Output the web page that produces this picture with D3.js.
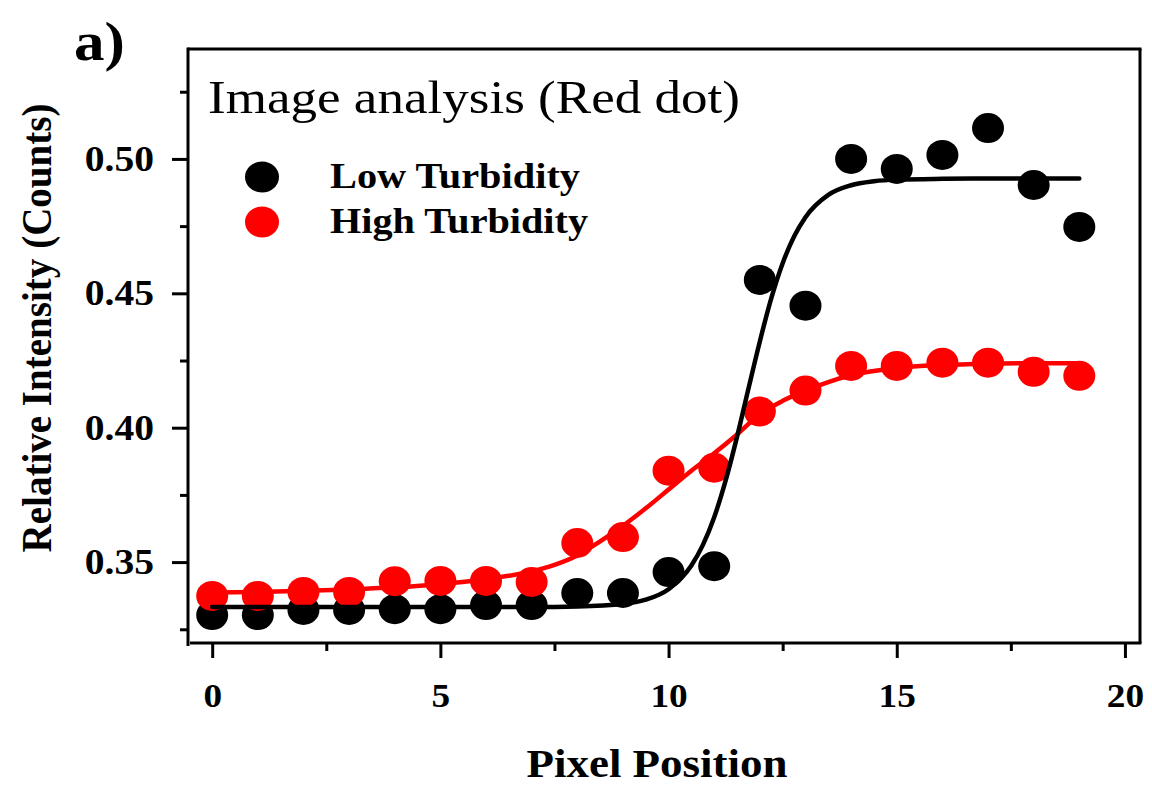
<!DOCTYPE html>
<html>
<head>
<meta charset="utf-8">
<script src="https://cdn.jsdelivr.net/npm/d3@7"></script>
<style>
  html, body { margin: 0; padding: 0; background: #fff; }
  svg { display: block; font-family: "Liberation Serif", "Times New Roman", serif; }
</style>
</head>
<body>
<div id="chart"></div>
<script>
// 数据
const pixelPos = [0, 1, 2, 3, 4, 5, 6, 7, 8, 9, 10, 11, 12, 13, 14, 15, 16, 17, 18, 19];
const lowTurbidity = [0.3303, 0.3303, 0.3322, 0.3322, 0.3325, 0.3325, 0.3340, 0.3340, 0.3385, 0.3385,
                      0.3463, 0.3485, 0.4550, 0.4454, 0.5000, 0.4963, 0.5015, 0.5115, 0.4903, 0.4747];
const highTurbidity = [0.3374, 0.3374, 0.3389, 0.3389, 0.3429, 0.3430, 0.3430, 0.3426, 0.3571, 0.3593,
                       0.3840, 0.3851, 0.4060, 0.4138, 0.4230, 0.4230, 0.4242, 0.4242, 0.4208, 0.4193];

// 拟合曲线
const lowFitX = [0, 2, 4, 6, 7, 8, 9, 9.5, 10, 10.5, 10.75, 11, 11.25, 11.5, 11.75, 12, 12.25, 12.5, 12.75, 13, 13.5, 14, 14.5, 15, 16, 17, 18, 19];
const lowFitY = [0.3333, 0.3333, 0.3333, 0.3333, 0.3333, 0.3335, 0.3344, 0.3360, 0.3399, 0.3487, 0.3563, 0.3667,
                 0.3803, 0.3966, 0.4145, 0.4321, 0.4481, 0.4612, 0.4711, 0.4783, 0.4866, 0.4902, 0.4917, 0.4923,
                 0.4926, 0.4927, 0.4927, 0.4927];
const highFitX = [0, 1, 2, 3, 4, 5, 6, 7, 7.5, 8, 8.5, 9, 9.5, 10, 10.5, 11, 11.5, 12, 12.5, 13, 13.5, 14, 15, 16, 17, 18, 19];
const highFitY = [0.3387, 0.3389, 0.3393, 0.3398, 0.3406, 0.3418, 0.3436, 0.3466, 0.3490, 0.3525, 0.3577, 0.3635,
                  0.3700, 0.3770, 0.3840, 0.3905, 0.3975, 0.4050, 0.4100, 0.4138, 0.4170, 0.4195, 0.4222, 0.4233,
                  0.4238, 0.4240, 0.4240];

const xMajorTicks = [0, 5, 10, 15, 20];
const xMinorTicks = [2.5, 7.5, 12.5, 17.5];
const yMajorTicks = [0.35, 0.40, 0.45, 0.50];
const yMinorTicks = [0.325, 0.375, 0.425, 0.475, 0.525];

const width = 1152, height = 785;
const plot = { left: 188, right: 1140, top: 49, bottom: 643 };
const stretch = 1.13; // 原图文字横向略宽

// 横向拉伸文字
function widen(sel, k = stretch) {
    sel.each(function() {
        const len = this.getComputedTextLength();
        d3.select(this).attr('textLength', len * k).attr('lengthAdjust', 'spacingAndGlyphs');
    });
}

const svg = d3.select('#chart').append('svg')
    .attr('width', width)
    .attr('height', height);

const xScale = d3.scaleLinear().domain([-0.53, 20.33]).range([plot.left, plot.right]);
const yScale = d3.scaleLinear().domain([0.3199, 0.5409]).range([plot.bottom, plot.top]);

// 坐标轴
const yAxis = d3.axisLeft(yScale).tickValues(yMajorTicks).tickSize(16).tickSizeOuter(0)
    .tickFormat(d3.format('.2f')).tickPadding(18);
const gy = svg.append('g').attr('transform', `translate(${plot.left},0)`).call(yAxis);
gy.select('.domain').remove();
gy.selectAll('.tick line').attr('stroke', '#000').attr('stroke-width', 3);
gy.selectAll('.tick text').attr('font-size', 35).attr('font-weight', 'bold').attr('fill', '#000')
    .attr('font-family', '"Liberation Serif", serif').attr('dy', '0.33em').call(widen);

const gyMinor = svg.append('g').attr('transform', `translate(${plot.left},0)`)
    .call(d3.axisLeft(yScale).tickValues(yMinorTicks).tickSize(8).tickFormat(''));
gyMinor.select('.domain').remove();
gyMinor.selectAll('.tick line').attr('stroke', '#000').attr('stroke-width', 3);

const xAxis = d3.axisBottom(xScale).tickValues(xMajorTicks).tickSize(15).tickSizeOuter(0)
    .tickFormat(d3.format('d')).tickPadding(26);
const gx = svg.append('g').attr('transform', `translate(0,${plot.bottom})`).call(xAxis);
gx.select('.domain').remove();
gx.selectAll('.tick line').attr('stroke', '#000').attr('stroke-width', 3);
gx.selectAll('.tick text').attr('font-size', 33).attr('font-weight', 'bold').attr('fill', '#000')
    .attr('font-family', '"Liberation Serif", serif').call(widen);

const gxMinor = svg.append('g').attr('transform', `translate(0,${plot.bottom})`)
    .call(d3.axisBottom(xScale).tickValues(xMinorTicks).tickSize(8).tickFormat(''));
gxMinor.select('.domain').remove();
gxMinor.selectAll('.tick line').attr('stroke', '#000').attr('stroke-width', 3);

// 边框
svg.append('line').attr('x1', plot.left).attr('x2', plot.left).attr('y1', plot.top - 1.5).attr('y2', plot.bottom + 3)
    .attr('stroke', '#000').attr('stroke-width', 3);
svg.append('line').attr('x1', plot.left + 2).attr('x2', plot.right + 1.5).attr('y1', plot.bottom).attr('y2', plot.bottom)
    .attr('stroke', '#000').attr('stroke-width', 3);
svg.append('line').attr('x1', plot.left).attr('x2', plot.right + 1.5).attr('y1', plot.top).attr('y2', plot.top)
    .attr('stroke', '#000').attr('stroke-width', 3);
svg.append('line').attr('x1', plot.right).attr('x2', plot.right).attr('y1', plot.top).attr('y2', plot.bottom)
    .attr('stroke', '#000').attr('stroke-width', 3);

// 数据点
const r = 15.5;
svg.append('g').selectAll('ellipse')
    .data(pixelPos)
    .enter()
    .append('ellipse')
    .attr('cx', d => xScale(d))
    .attr('cy', (d, i) => yScale(lowTurbidity[i]))
    .attr('rx', r + 0.5)
    .attr('ry', r - 0.5)
    .attr('fill', '#000');

svg.append('g').selectAll('ellipse')
    .data(pixelPos)
    .enter()
    .append('ellipse')
    .attr('cx', d => xScale(d))
    .attr('cy', (d, i) => yScale(highTurbidity[i]))
    .attr('rx', r + 0.5)
    .attr('ry', r - 0.5)
    .attr('fill', '#ff0000');

// 拟合曲线
const line = d3.line()
    .x(d => xScale(d[0]))
    .y(d => yScale(d[1]))
    .curve(d3.curveMonotoneX);

svg.append('path')
    .attr('d', line(highFitX.map((x, i) => [x, highFitY[i]])))
    .attr('fill', 'none')
    .attr('stroke', '#ff0000')
    .attr('stroke-width', 4.5)
    .attr('stroke-linecap', 'round');

svg.append('path')
    .attr('d', line(lowFitX.map((x, i) => [x, lowFitY[i]])))
    .attr('fill', 'none')
    .attr('stroke', '#000')
    .attr('stroke-width', 4.5)
    .attr('stroke-linecap', 'round');

// 标题与图例
svg.append('text')
    .attr('x', 208).attr('y', 113)
    .attr('font-size', 47)
    .attr('fill', '#000')
    .text('Image analysis (Red dot)')
    .attr('textLength', 532).attr('lengthAdjust', 'spacingAndGlyphs');

svg.append('ellipse').attr('cx', 262).attr('cy', 177).attr('rx', 17).attr('ry', 15.5).attr('fill', '#000');
svg.append('ellipse').attr('cx', 262).attr('cy', 222).attr('rx', 17).attr('ry', 15.5).attr('fill', '#ff0000');

svg.append('text')
    .attr('x', 330).attr('y', 188)
    .attr('font-size', 35).attr('font-weight', 'bold')
    .text('Low Turbidity')
    .attr('textLength', 250).attr('lengthAdjust', 'spacingAndGlyphs');
svg.append('text')
    .attr('x', 330).attr('y', 233)
    .attr('font-size', 35).attr('font-weight', 'bold')
    .text('High Turbidity')
    .attr('textLength', 258).attr('lengthAdjust', 'spacingAndGlyphs');

// 轴标题
svg.append('text')
    .attr('x', 657).attr('y', 777)
    .attr('text-anchor', 'middle')
    .attr('font-size', 40).attr('font-weight', 'bold')
    .text('Pixel Position')
    .attr('textLength', 261).attr('lengthAdjust', 'spacingAndGlyphs');

svg.append('text')
    .attr('transform', `translate(51,328) scale(${stretch},1) rotate(-90)`)
    .attr('text-anchor', 'middle')
    .attr('font-size', 38).attr('font-weight', 'bold')
    .text('Relative Intensity (Counts)')
    .attr('textLength', 449).attr('lengthAdjust', 'spacingAndGlyphs');

svg.append('text')
    .attr('x', 74).attr('y', 60)
    .attr('font-size', 54).attr('font-weight', 'bold')
    .text('a)')
    .call(widen);
</script>
</body>
</html>
